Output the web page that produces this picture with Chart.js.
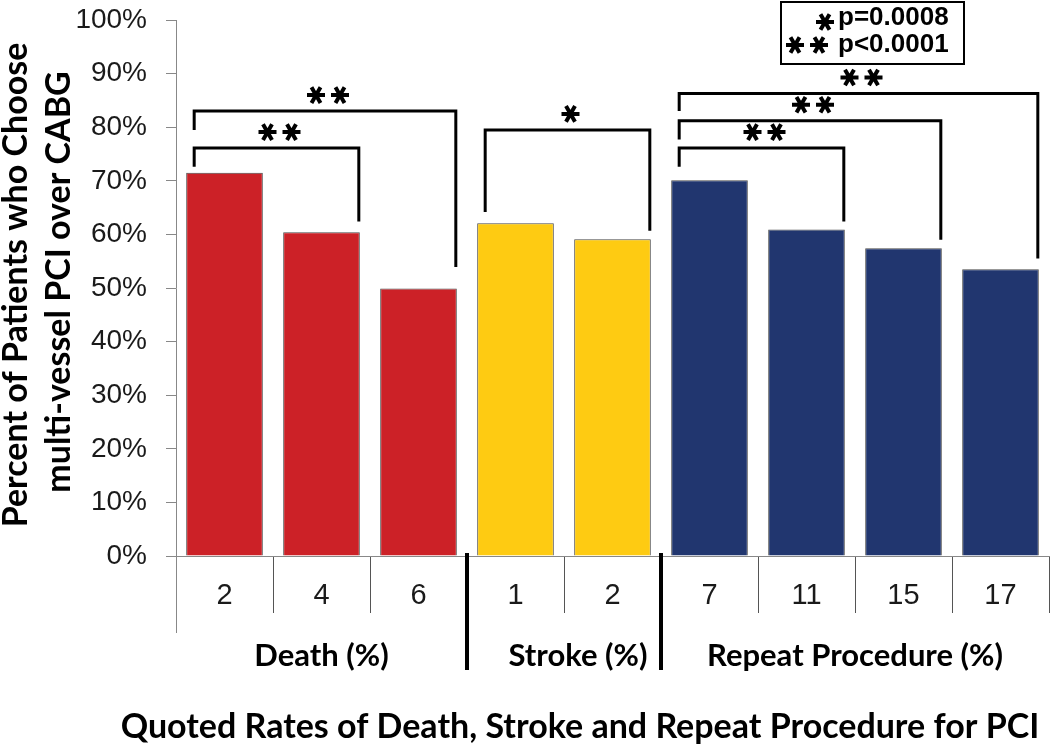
<!DOCTYPE html>
<html>
<head>
<meta charset="utf-8">
<script src="https://cdn.jsdelivr.net/npm/chart.js@4.4.1/dist/chart.umd.min.js"></script>
<style>
  html, body { margin: 0; padding: 0; background: #fff; }
  #wrap { width: 1050px; height: 748px; position: relative; }
</style>
</head>
<body>
<div id="wrap"><canvas id="chart" width="1050" height="748"></canvas></div>
<script>
// quoted PCI rates (x categories) and % of patients choosing PCI
const categories = ['2', '4', '6', '1', '2', '7', '11', '15', '17'];
const percentChoosingPCI = [71.5, 60.4, 49.9, 62.1, 59.1, 70.1, 60.9, 57.4, 53.5];
const barColors = ['#cc2127', '#cc2127', '#cc2127', '#fecb12', '#fecb12', '#21366f', '#21366f', '#21366f', '#21366f'];
const yTicks = [0, 10, 20, 30, 40, 50, 60, 70, 80, 90, 100];

const groupNames = ['Death (%)', 'Stroke (%)', 'Repeat Procedure (%)'];
const groupFirst = [0, 3, 5];
const groupLast = [2, 4, 8];

// significance brackets: bars compared, bracket top and leg ends (in %)
const bracketFrom = [0, 0, 3, 5, 5, 5];
const bracketTo = [1, 2, 4, 6, 7, 8];
const bracketTop = [76.1, 83.0, 79.5, 76.1, 81.2, 86.3];
const bracketLeftEnd = [72.6, 79.5, 64.2, 72.6, 77.7, 83.0];
const bracketRightEnd = [62.4, 53.9, 60.7, 62.4, 59.0, 55.5];
const bracketStars = [2, 2, 1, 2, 2, 2];

const pStars = [1, 2];
const pLabels = ['p=0.0008', 'p<0.0001'];

const xTitle = 'Quoted Rates of Death, Stroke and Repeat Procedure for PCI';
const yTitle = ['Percent of Patients who Choose', 'multi-vessel PCI over CABG'];

const boldFont = 'Lato, "Open Sans", sans-serif';
const plainFont = '"Liberation Sans", Arial, sans-serif';

function asterisk(ctx, cx, cy, r) {
  ctx.beginPath();
  for (let a = 0; a < 180; a += 60) {
    const dx = r * Math.cos(a * Math.PI / 180), dy = r * Math.sin(a * Math.PI / 180);
    ctx.moveTo(cx - dx, cy - dy);
    ctx.lineTo(cx + dx, cy + dy);
  }
  ctx.stroke();
}

function stars(ctx, cx, cy, n) {
  const gap = 24;
  for (let i = 0; i < n; i++) {
    asterisk(ctx, cx - (n - 1) * gap / 2 + i * gap, cy, 9);
  }
}

const extras = {
  id: 'extras',
  afterDraw(chart) {
    const ctx = chart.ctx;
    const xs = chart.scales.x, ys = chart.scales.y;
    const area = chart.chartArea;
    const bars = chart.getDatasetMeta(0).data;
    const half = (xs.getPixelForValue(1) - xs.getPixelForValue(0)) / 2;
    ctx.save();

    // y axis runs down past the category row
    ctx.strokeStyle = '#888';
    ctx.lineWidth = 1;
    ctx.beginPath();
    ctx.moveTo(area.left + 0.5, area.bottom);
    ctx.lineTo(area.left + 0.5, area.bottom + 77);
    ctx.stroke();

    // category labels
    ctx.fillStyle = '#1a1a1a';
    ctx.font = '29px ' + plainFont;
    ctx.textAlign = 'center';
    ctx.textBaseline = 'middle';
    categories.forEach((c, i) => ctx.fillText(c, xs.getPixelForValue(i), area.bottom + 40));

    // group dividers and names
    ctx.strokeStyle = '#000';
    ctx.lineWidth = 4;
    groupLast.slice(0, -1).forEach(i => {
      const x = xs.getPixelForValue(i) + half;
      ctx.beginPath();
      ctx.moveTo(x, area.bottom - 3);
      ctx.lineTo(x, area.bottom + 114);
      ctx.stroke();
    });
    ctx.fillStyle = '#000';
    ctx.font = 'bold 31px ' + boldFont;
    groupNames.forEach((g, k) => {
      const x = (xs.getPixelForValue(groupFirst[k]) + xs.getPixelForValue(groupLast[k])) / 2;
      ctx.fillText(g, x + (k === 1 ? 14 : 0), area.bottom + 100);
    });

    // axis titles
    ctx.font = 'bold 34px ' + boldFont;
    ctx.fillText(xTitle, 580, 727);
    ctx.save();
    ctx.textBaseline = 'alphabetic';
    ctx.translate(27, 0);
    ctx.rotate(-Math.PI / 2);
    ctx.fillText(yTitle[0], -285, 0);
    ctx.fillText(yTitle[1], -282, 43);
    ctx.restore();

    // brackets
    ctx.strokeStyle = '#000';
    ctx.lineWidth = 3;
    ctx.lineJoin = 'miter';
    bracketFrom.forEach((f, k) => {
      const a = bars[f], b = bars[bracketTo[k]];
      const x1 = a.x - a.width / 2 + 8, x2 = b.x + b.width / 2 - 1;
      const yt = ys.getPixelForValue(bracketTop[k]);
      ctx.beginPath();
      ctx.moveTo(x1, ys.getPixelForValue(bracketLeftEnd[k]));
      ctx.lineTo(x1, yt);
      ctx.lineTo(x2, yt);
      ctx.lineTo(x2, ys.getPixelForValue(bracketRightEnd[k]));
      ctx.stroke();
      ctx.lineWidth = 4;
      stars(ctx, (x1 + x2) / 2 + 3, yt - 16, bracketStars[k]);
      ctx.lineWidth = 3;
    });

    // p-value key
    ctx.lineWidth = 2;
    ctx.strokeRect(781, 2, 183, 62);
    ctx.lineWidth = 4;
    stars(ctx, 825, 22, pStars[0]);
    stars(ctx, 807, 45, pStars[1]);
    ctx.font = 'bold 26px ' + plainFont;
    ctx.textAlign = 'left';
    pLabels.forEach((t, i) => ctx.fillText(t, 838, 18 + i * 27));

    ctx.restore();
  }
};

new Chart(document.getElementById('chart'), {
  type: 'bar',
  data: {
    labels: categories,
    datasets: [{
      data: percentChoosingPCI,
      backgroundColor: barColors,
      borderColor: '#4a4a4a',
      borderWidth: 1,
      barPercentage: 0.79,
      categoryPercentage: 1
    }]
  },
  options: {
    responsive: false,
    animation: false,
    layout: { padding: { top: 0, right: 1, left: 0, bottom: 0 } },
    plugins: { legend: { display: false }, tooltip: { enabled: false } },
    scales: {
      x: {
        offset: true,
        grid: { offset: true, drawOnChartArea: false, tickLength: 57, color: '#555' },
        border: { color: '#888' },
        ticks: { display: false },
        afterFit(s) { s.height = 192; }
      },
      y: {
        min: 0,
        max: 100,
        afterBuildTicks(s) { s.ticks = yTicks.map(v => ({ value: v })); },
        ticks: {
          callback: v => v + '%',
          font: { family: plainFont, size: 28 },
          color: '#1a1a1a',
          padding: 19
        },
        grid: { drawOnChartArea: false, tickLength: 10, color: '#888' },
        border: { color: '#888' },
        afterFit(s) {
          s.width = 176;
          s.paddingTop = 20;
          s.paddingBottom = 0;
        }
      }
    }
  },
  plugins: [extras]
});
</script>
</body>
</html>
